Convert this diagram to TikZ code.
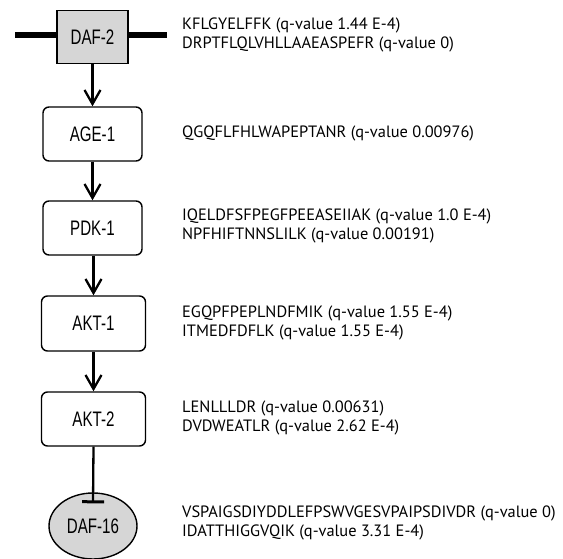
\documentclass[tikz,border=0pt]{standalone}
\usepackage{fontspec}
\setmainfont{PT Sans}
\newfontfamily\labfont[FakeStretch=0.72]{Liberation Sans}
\usetikzlibrary{arrows.meta,shapes.geometric}
\definecolor{boxgray}{RGB}{214,214,214}
\tikzset{
  gene/.style={draw, line width=1.4pt, rounded corners=6pt, fill=white, inner sep=0pt,
    font=\labfont\fontsize{21}{23}\selectfont},
  receptor/.style={draw, line width=1.4pt, fill=boxgray, inner sep=0pt,
    font=\labfont\fontsize{21}{23}\selectfont},
  tf/.style={draw, line width=1.4pt, ellipse, fill=boxgray, inner sep=0pt,
    font=\labfont\fontsize{21}{23}\selectfont},
  act/.style={line width=2.3pt, -{Straight Barb[length=14pt,width=16pt,line width=2.3pt]}},
  inh/.style={line width=2.3pt, -{Bar[width=22pt,line width=3pt]}},
  membrane/.style={line width=6pt},
  pep/.style={anchor=west, inner sep=0pt, align=left,
    font=\fontsize{16.4}{18.5}\selectfont},
}
\begin{document}
\begin{tikzpicture}[x=1pt,y=-1pt]
\useasboundingbox (0,0) rectangle (563,559);
\node[receptor, minimum width=71pt, minimum height=53pt] (daf2) at (92.5,37) {DAF-2};
\coordinate (mL) at (15,35);
\coordinate (mR) at (167,35);
\draw[membrane] (mL) -- (daf2.west |- mL);
\draw[membrane] (daf2.east |- mR) -- (mR);
\node[gene, minimum width=99pt, minimum height=54pt] (age1) at (92.5,134) {AGE-1};
\node[gene, minimum width=99pt, minimum height=54pt] (pdk1) at (92.5,228) {PDK-1};
\node[gene, minimum width=104pt, minimum height=55pt] (akt1) at (93.5,323.5) {AKT-1};
\node[gene, minimum width=104pt, minimum height=54pt] (akt2) at (93.5,419) {AKT-2};
\node[tf, minimum width=88pt, minimum height=66pt] (daf16) at (93,526) {DAF-16};
\draw[act] (daf2.south) -- (age1.north);
\draw[act] (age1.south) -- (pdk1.north);
\draw[act] (pdk1.south -| akt1.north) -- (akt1.north);
\draw[act] (akt1.south) -- (akt2.north);
\draw[inh] (akt2.south) -- ([yshift=-11pt]daf16.north);
\node[pep] (t1) at (182,35) {KFLGYELFFK (q-value 1.44 E-4)\\DRPTFLQLVHLLAAEASPEFR (q-value 0)};
\node[pep] (t2) at (182,133) {QGQFLFHLWAPEPTANR (q-value 0.00976)};
\node[pep] (t3) at (182,226) {IQELDFSFPEGFPEEASEIIAK (q-value 1.0 E-4)\\NPFHIFTNNSLILK (q-value 0.00191)};
\node[pep] (t4) at (182,323) {EGQPFPEPLNDFMIK (q-value 1.55 E-4)\\ITMEDFDFLK (q-value 1.55 E-4)};
\node[pep] (t5) at (182,418) {LENLLLDR (q-value 0.00631)\\DVDWEATLR (q-value 2.62 E-4)};
\node[pep] (t6) at (182,523) {VSPAIGSDIYDDLEFPSWVGESVPAIPSDIVDR (q-value 0)\\IDATTHIGGVQIK (q-value 3.31 E-4)};
\end{tikzpicture}
\end{document}
